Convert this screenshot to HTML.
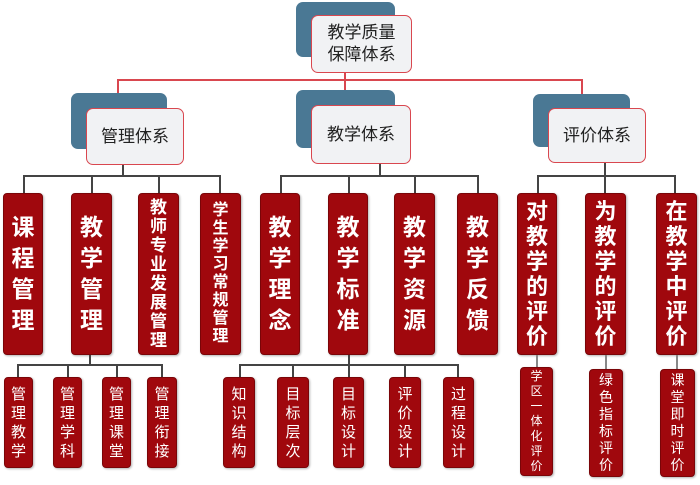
<!DOCTYPE html>
<html><head><meta charset="utf-8"><style>
body{margin:0;width:700px;height:485px;background:#fff;position:relative;overflow:hidden;font-family:"Liberation Sans","Noto Sans CJK SC",sans-serif}
div{position:absolute;box-sizing:border-box}
.bl{background:#4a7894;border-radius:7px}
.wh{background:#f1f2f4;border:1.5px solid #d9474f;border-radius:7px;display:flex;align-items:center;justify-content:center;color:#222;font-size:17px;text-align:center;line-height:22px}
.r{background:#a0080d;border-radius:4px;border:1px solid #7a0508;color:#fff;display:flex;flex-direction:column;align-items:center;justify-content:center;text-align:center;box-shadow:1px 1px 2px rgba(0,0,0,.3)}
.big{font-weight:bold;font-size:23px;line-height:31px}
.mid{font-weight:bold;font-size:17px;line-height:19px}
.sm{font-size:15px;line-height:19px}
.xs{font-size:12px;line-height:15px}
.lr{background:#d9474f}
.lk{background:#444}
.lg{background:#888}
</style></head><body>
<div class="lr" style="left:118px;top:79px;width:465px;height:2px"></div>
<div class="lr" style="left:117px;top:79px;width:2px;height:15px"></div>
<div class="lr" style="left:344px;top:72px;width:2px;height:19px"></div>
<div class="lr" style="left:581px;top:79px;width:2px;height:15px"></div>

<div class="bl" style="left:296px;top:2px;width:99px;height:55px"></div>
<div class="wh" style="left:311px;top:15px;width:101px;height:58px">教学质量<br>保障体系</div>
<div class="bl" style="left:71px;top:93px;width:96px;height:56px"></div>
<div class="wh" style="left:86px;top:108px;width:98px;height:57px">管理体系</div>
<div class="bl" style="left:296px;top:90px;width:99px;height:58px"></div>
<div class="wh" style="left:311px;top:105px;width:100px;height:59px">教学体系</div>
<div class="bl" style="left:533px;top:94px;width:97px;height:53px"></div>
<div class="wh" style="left:548px;top:108px;width:98px;height:55px">评价体系</div>

<div class="lk" style="left:122px;top:165px;width:2px;height:11px"></div>
<div class="lk" style="left:23px;top:175px;width:198px;height:2px"></div>
<div class="lk" style="left:23px;top:175px;width:2px;height:18px"></div>
<div class="lk" style="left:91px;top:175px;width:2px;height:18px"></div>
<div class="lk" style="left:158px;top:175px;width:2px;height:18px"></div>
<div class="lk" style="left:219px;top:175px;width:2px;height:18px"></div>

<div class="lk" style="left:379px;top:164px;width:2px;height:12px"></div>
<div class="lk" style="left:280px;top:175px;width:199px;height:2px"></div>
<div class="lk" style="left:280px;top:175px;width:2px;height:18px"></div>
<div class="lk" style="left:348px;top:175px;width:2px;height:18px"></div>
<div class="lk" style="left:414px;top:175px;width:2px;height:18px"></div>
<div class="lk" style="left:477px;top:175px;width:2px;height:18px"></div>

<div class="lk" style="left:604px;top:163px;width:2px;height:13px"></div>
<div class="lk" style="left:537px;top:175px;width:139px;height:2px"></div>
<div class="lk" style="left:537px;top:175px;width:2px;height:18px"></div>
<div class="lk" style="left:604px;top:175px;width:2px;height:18px"></div>
<div class="lk" style="left:674px;top:175px;width:2px;height:18px"></div>

<div class="r big" style="left:3px;top:193px;width:40px;height:162px">课<br>程<br>管<br>理</div>
<div class="r big" style="left:71px;top:193px;width:41px;height:162px">教<br>学<br>管<br>理</div>
<div class="r mid" style="left:138px;top:193px;width:41px;height:162px">教<br>师<br>专<br>业<br>发<br>展<br>管<br>理</div>
<div class="r mid" style="left:200px;top:193px;width:41px;height:162px;font-size:16px;line-height:18px">学<br>生<br>学<br>习<br>常<br>规<br>管<br>理</div>
<div class="r big" style="left:260px;top:193px;width:40px;height:162px">教<br>学<br>理<br>念</div>
<div class="r big" style="left:328px;top:193px;width:40px;height:162px">教<br>学<br>标<br>准</div>
<div class="r big" style="left:394px;top:193px;width:41px;height:162px">教<br>学<br>资<br>源</div>
<div class="r big" style="left:457px;top:193px;width:41px;height:162px">教<br>学<br>反<br>馈</div>
<div class="r big" style="left:517px;top:193px;width:40px;height:162px;font-size:22px;line-height:25px">对<br>教<br>学<br>的<br>评<br>价</div>
<div class="r big" style="left:585px;top:193px;width:41px;height:162px;font-size:22px;line-height:25px">为<br>教<br>学<br>的<br>评<br>价</div>
<div class="r big" style="left:656px;top:193px;width:41px;height:162px;font-size:22px;line-height:25px">在<br>教<br>学<br>中<br>评<br>价</div>

<div class="lk" style="left:89px;top:355px;width:2px;height:11px"></div>
<div class="lk" style="left:17px;top:364px;width:146px;height:2px"></div>
<div class="lk" style="left:17px;top:364px;width:2px;height:13px"></div>
<div class="lk" style="left:67px;top:364px;width:2px;height:13px"></div>
<div class="lk" style="left:116px;top:364px;width:2px;height:13px"></div>
<div class="lk" style="left:161px;top:364px;width:2px;height:13px"></div>

<div class="lk" style="left:348px;top:355px;width:2px;height:22px"></div>
<div class="lk" style="left:239px;top:364px;width:220px;height:2px"></div>
<div class="lk" style="left:239px;top:364px;width:2px;height:13px"></div>
<div class="lk" style="left:292px;top:364px;width:2px;height:13px"></div>
<div class="lk" style="left:404px;top:364px;width:2px;height:13px"></div>
<div class="lk" style="left:457px;top:364px;width:2px;height:13px"></div>

<div class="lg" style="left:536px;top:355px;width:2px;height:13px"></div>
<div class="lg" style="left:605px;top:355px;width:2px;height:14px"></div>
<div class="lg" style="left:676px;top:355px;width:2px;height:14px"></div>

<div class="r sm" style="left:4px;top:377px;width:29px;height:91px">管<br>理<br>教<br>学</div>
<div class="r sm" style="left:53px;top:377px;width:29px;height:91px">管<br>理<br>学<br>科</div>
<div class="r sm" style="left:102px;top:377px;width:29px;height:91px">管<br>理<br>课<br>堂</div>
<div class="r sm" style="left:147px;top:377px;width:30px;height:91px">管<br>理<br>衔<br>接</div>
<div class="r sm" style="left:223px;top:377px;width:32px;height:91px">知<br>识<br>结<br>构</div>
<div class="r sm" style="left:277px;top:377px;width:32px;height:91px">目<br>标<br>层<br>次</div>
<div class="r sm" style="left:333px;top:377px;width:31px;height:91px">目<br>标<br>设<br>计</div>
<div class="r sm" style="left:389px;top:377px;width:32px;height:91px">评<br>价<br>设<br>计</div>
<div class="r sm" style="left:443px;top:377px;width:31px;height:91px">过<br>程<br>设<br>计</div>
<div class="r xs" style="left:520px;top:367px;width:33px;height:109px">学<br>区<br>一<br>体<br>化<br>评<br>价</div>
<div class="r sm" style="left:589px;top:369px;width:34px;height:108px;font-size:14px;line-height:17px">绿<br>色<br>指<br>标<br>评<br>价</div>
<div class="r sm" style="left:660px;top:369px;width:35px;height:108px;font-size:14px;line-height:17px">课<br>堂<br>即<br>时<br>评<br>价</div>
</body></html>
